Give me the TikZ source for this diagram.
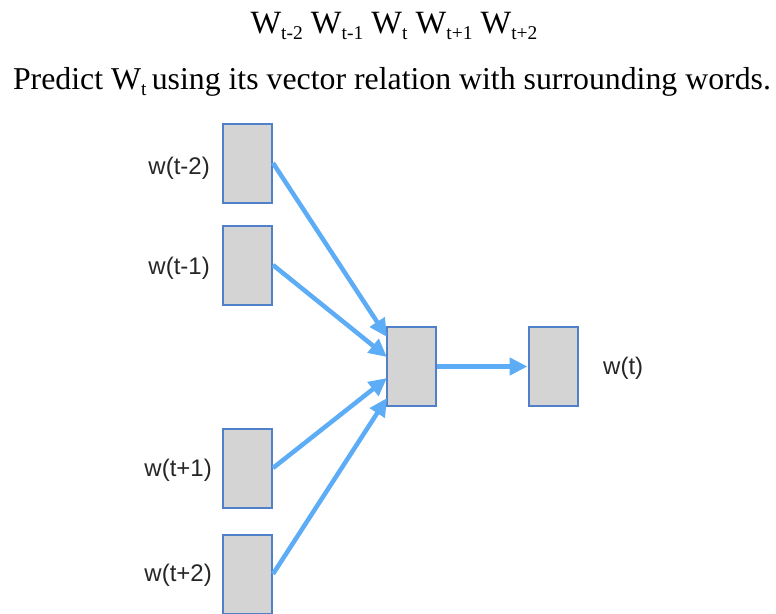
\documentclass[tikz,border=0pt]{standalone}
\usepackage{fontspec}
\setmainfont{Liberation Serif}
\setsansfont{Liberation Sans}
\usetikzlibrary{arrows.meta}
\definecolor{wblue}{RGB}{92,172,246}
\definecolor{wedge}{RGB}{80,128,200}
\definecolor{wfill}{RGB}{212,212,212}
\newcommand{\wsub}[1]{\raisebox{-0.2em}{\fontsize{19.5}{20}\selectfont #1}}
\tikzset{
  wbox/.style={draw=wedge,fill=wfill,line width=2pt,minimum width=49pt,minimum height=79pt,inner sep=0pt},
  wlabel/.style={font=\sffamily\fontsize{24}{28}\selectfont,text=black!85,inner sep=0pt},
  warrow/.style={draw=wblue,line width=4.5pt,-{Triangle[length=18pt,width=17pt]}}
}
\begin{document}
\begin{tikzpicture}[x=1pt,y=-1pt]
  \useasboundingbox (0,0) rectangle (776,613);
  \def\x{247.5}
  \node (T0) [anchor=base,font=\fontsize{32.5}{36}\selectfont] at (394,33)
    {W\wsub{t-2} W\wsub{t-1} W\wsub{t} W\wsub{t+1} W\wsub{t+2}};
  \node (T1) [anchor=base,font=\fontsize{31.8}{36}\selectfont] at (392,89)
    {Predict W\wsub{t}\,using its vector relation with surrounding words.};
  \node (A0) [wbox] at (\x,163) {};
  \node (A1) [wbox] at (\x,265) {};
  \node (A2) [wbox] at (\x,468) {};
  \node (A3) [wbox] at (\x,574) {};
  \node (H) [wbox] at (411.5,366.5) {};
  \node (O) [wbox] at (553,366.5) {};
  \node (L0) [wlabel,anchor=east] at (210,168) {w(t-2)};
  \node (L1) [wlabel,anchor=east] at (210,268) {w(t-1)};
  \node (L2) [wlabel,anchor=east] at (212,470) {w(t+1)};
  \node (L3) [wlabel,anchor=east] at (212,575) {w(t+2)};
  \node (LO) [wlabel,anchor=west] at (603,368) {w(t)};
  \coordinate (H0) at (387,337);
  \coordinate (H1) at (387,357);
  \coordinate (H2) at (387,378);
  \coordinate (H3) at (387,398);
  \path (A0.east) edge [warrow] (H0);
  \path (A1.east) edge [warrow] (H1);
  \path (A2.east) edge [warrow] (H2);
  \path (A3.east) edge [warrow] (H3);
  \path (H) edge [warrow] (O);
\end{tikzpicture}
\end{document}
